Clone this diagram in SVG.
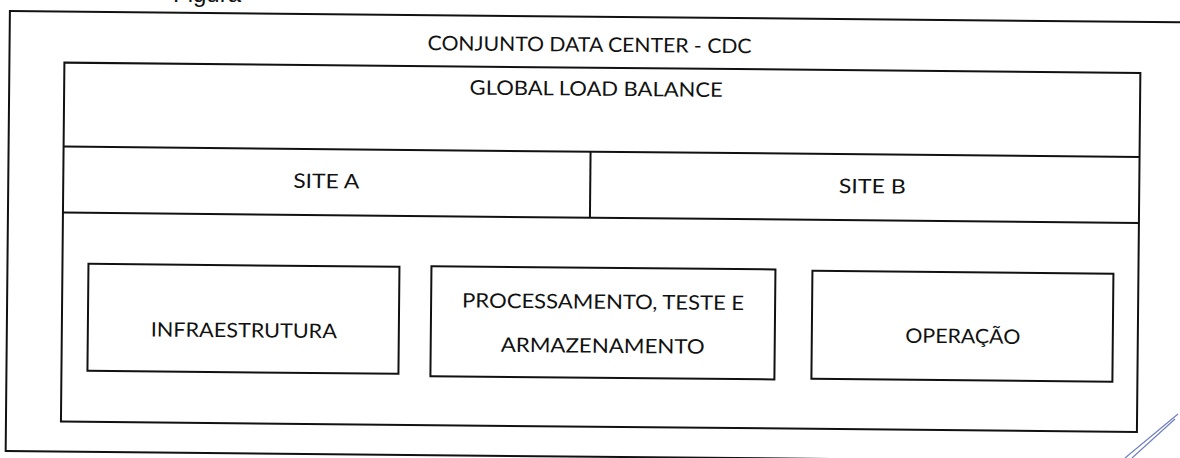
<svg xmlns="http://www.w3.org/2000/svg" width="1180" height="458" viewBox="0 0 1180 458">
<style>
.ln{fill:none;stroke:#111;stroke-width:2}
.bx{fill:#fff;stroke:#111;stroke-width:2}
.t{font-family:Lato,"Open Sans","Liberation Sans",sans-serif;font-size:20px;fill:#111;text-anchor:middle}
.pen{fill:none;stroke:#6f7fc4;stroke-width:1.2}
</style>
<rect width="1180" height="458" fill="#fff"/>
<text x="173" y="1.5" style="font-family:'Liberation Sans',Arial,sans-serif;font-size:24px;fill:#111">Figura</text>
<g transform="rotate(0.55)">
  <g id="cdc">
    <rect class="ln" x="10" y="11" width="1200" height="440"/>
    <text class="t" x="590" y="46" textLength="324" lengthAdjust="spacingAndGlyphs">CONJUNTO DATA CENTER - CDC</text>
  </g>
  <g id="global-load-balance">
    <rect class="ln" x="65" y="62" width="1076" height="359"/>
    <line class="ln" x1="65" y1="146" x2="1141" y2="146"/>
    <text class="t" x="597" y="90" textLength="253" lengthAdjust="spacingAndGlyphs">GLOBAL LOAD BALANCE</text>
  </g>
  <g id="site-a">
    <line class="ln" x1="65" y1="212" x2="1141" y2="212"/>
    <line class="ln" x1="592" y1="146" x2="592" y2="212"/>
    <text class="t" x="328" y="185" textLength="66" lengthAdjust="spacingAndGlyphs">SITE A</text>
  </g>
  <g id="site-b">
    <text class="t" x="874" y="185" textLength="67" lengthAdjust="spacingAndGlyphs">SITE B</text>
  </g>
  <g id="infraestrutura">
    <rect class="bx" x="91" y="263" width="311" height="107"/>
    <text class="t" x="247" y="335" textLength="186" lengthAdjust="spacingAndGlyphs">INFRAESTRUTURA</text>
  </g>
  <g id="processamento">
    <rect class="bx" x="434" y="262" width="344" height="110"/>
    <text class="t" x="606" y="303" textLength="282" lengthAdjust="spacingAndGlyphs">PROCESSAMENTO, TESTE E</text>
    <text class="t" x="606" y="347" textLength="204" lengthAdjust="spacingAndGlyphs">ARMAZENAMENTO</text>
  </g>
  <g id="operacao">
    <rect class="bx" x="815" y="263" width="301" height="108"/>
    <text class="t" x="966" y="334" textLength="115" lengthAdjust="spacingAndGlyphs">OPERAÇÃO</text>
  </g>
</g>
<g id="connectors"></g>
<path class="pen" d="M1178 414 L1125 458 M1175 419 L1132 458"/>
</svg>
